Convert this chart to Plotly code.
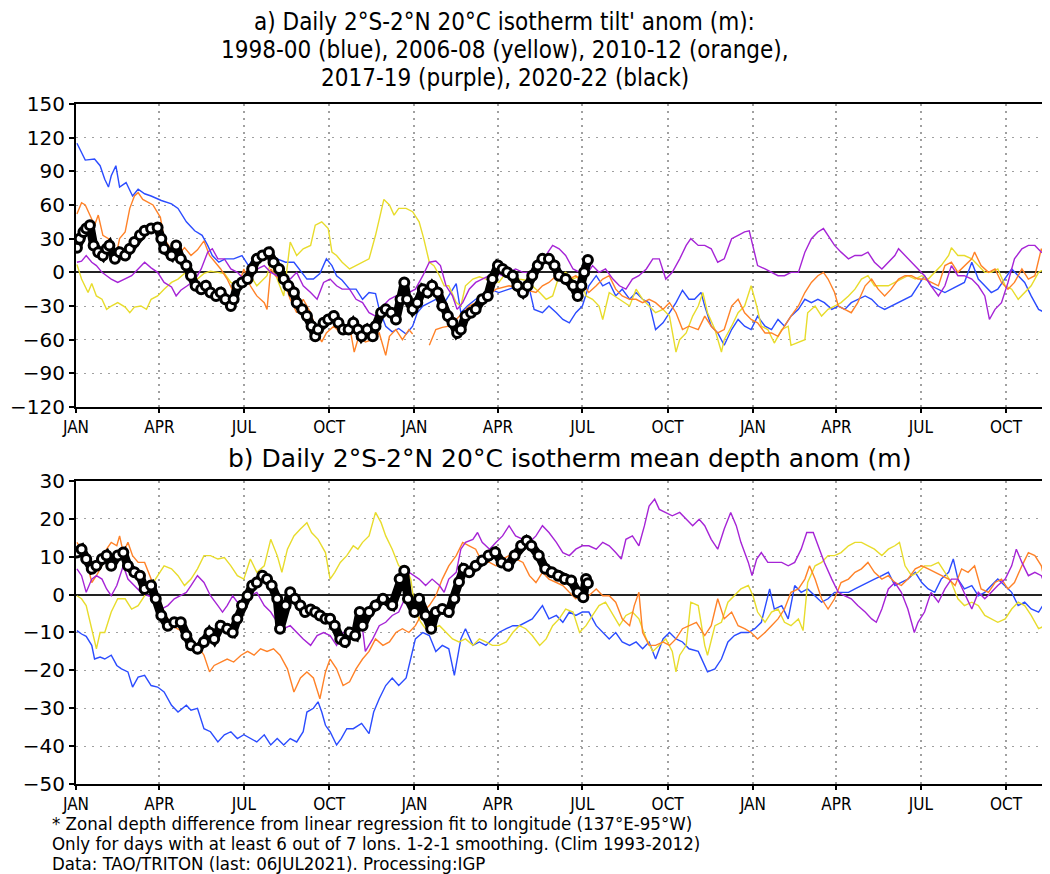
import plotly.graph_objects as go
from plotly.subplots import make_subplots

# ---------------- tick labels ----------------
month_ticks = [0, 90, 181, 273, 365, 455, 546, 638, 730, 820, 911, 1003]
month_labels = ["JAN", "APR", "JUL", "OCT"] * 3

# ---------------- panel a) tilt anomaly (m), x = day since JAN of year 1 ----------------
tilt_blue_day = [1, 10, 20, 26, 31, 35, 38, 43, 47, 54, 61, 67, 74, 81, 92, 103, 110, 119, 128, 136, 142, 147, 154, 161, 170, 179, 186, 194, 201, 210, 217, 226, 235, 244, 249, 256, 263, 270, 276, 281,
                 287, 295, 302, 309, 316, 323, 327, 334, 341, 348, 356, 363, 368, 374, 381, 388, 395, 402, 410, 415, 422, 431, 438, 446, 456, 467, 478, 489, 494, 503, 510, 518, 525, 532, 539, 546, 553, 561, 568, 575, 582, 589, 597, 604, 611, 618, 625, 633, 640, 647, 654, 661,
                 667, 674, 678, 685, 692, 699, 707, 714, 721, 728, 735, 743, 750, 757, 764, 771, 779, 786, 793, 800, 807, 815, 822, 829, 836, 843, 851, 858, 865, 872, 879, 887, 894, 901, 908, 915, 922, 930, 937, 944, 951, 958, 966, 973, 980, 987, 994, 1002, 1009, 1016, 1023, 1030, 1038, 1045, 1050]
tilt_blue = [115, 100, 101, 95, 83, 76, 86, 95, 76, 80, 68, 74, 70, 68, 64, 61, 57, 45, 37, 33, 24, 15, 9, 12, 12, 15, 6, 15, 18, 16, 12, 9, 9, 0, -6, -6, -1, 12, 6, -3,
             -7, -15, -15, -24, -18, -19, -33, -48, -53, -50, -55, -48, -36, -30, -27, -24, -30, -21, -10, -36, -30, -24, -21, -15, -18, -15, -12, -15, -33, -36, -30, -36, -42, -45, -36, -30, -12, -3, -12, -9, -21, -15, -24, -18, -24, -27, -51, -45, -36, -27, -16, -24,
             -24, -18, -30, -48, -54, -65, -51, -42, -48, -51, -39, -48, -51, -42, -48, -39, -33, -24, -27, -24, -27, -33, -30, -33, -27, -24, -21, -24, -30, -33, -30, -27, -24, -21, -12, -3, -12, -15, -18, -15, -12, -9, 9, -6, -12, -18, -15, -6, 3, -3, -9, -21, -33, -36, -40]

tilt_yellow_day = [1, 6, 13, 17, 22, 28, 33, 38, 45, 53, 58, 63, 70, 76, 81, 88, 95, 103, 110, 117, 124, 131, 138, 145, 153, 160, 167, 174, 181, 188, 195, 206, 210, 217, 224, 231, 238, 245, 253, 258, 265, 272, 276, 281,
                   287, 295, 302, 309, 316, 323, 329, 332, 338, 343, 348, 356, 363, 370, 375, 381, 386, 392, 397, 402, 410, 415, 420, 428, 435, 442, 449, 456, 464, 471, 478, 485, 492, 500, 507, 514, 521, 528, 536, 543, 550, 557, 564, 568, 575, 586, 597, 604, 611, 618, 625, 633, 640, 647, 651, 658, 665,
                   671, 676, 681, 689, 696, 699, 707, 714, 721, 728, 734, 739, 746, 753, 761, 768, 771, 779, 786, 789, 797, 804, 811, 818, 825, 833, 840, 847, 854, 861, 869, 876, 883, 890, 897, 905, 912, 919, 926, 933, 941, 944, 951, 958, 966, 973, 980, 987, 994, 1002, 1009, 1016, 1023, 1030, 1038, 1045, 1050]
tilt_yellow = [7, -6, -18, -10, -21, -24, -33, -30, -27, -31, -36, -31, -30, -33, -24, -21, -15, -9, -6, -1, 0, -6, -1, 1, 0, -1, -9, -12, -6, -3, -12, -3, 9, -6, -21, 27, 15, 21, 24, 42, 45, 39, 18, 15,
               9, 3, 6, 9, 12, 33, 54, 65, 60, 51, 57, 57, 54, 45, 30, 9, 6, -3, -12, -12, -27, -30, -12, -6, -4, -6, -7, -9, 0, -3, -6, -7, -12, -18, -24, -21, -3, 0, -6, -3, -21, -24, -30, -42, -18, -24, -30, -15, -24, -30, -36, -33, -39, -71, -60, -54, -39,
               -30, -18, -36, -51, -71, -60, -48, -36, -30, -12, -30, -48, -51, -63, -51, -48, -65, -62, -60, -36, -30, -39, -33, -30, -27, -21, -15, -6, -3, -12, -12, -12, -9, -6, -3, -6, -3, -6, 0, 6, 15, 22, 15, 15, 12, 6, 0, 0, 3, -12, -15, -24, -18, -12, 0, 3, -6]

tilt_orange_day = [1, 6, 10, 15, 20, 24, 29, 35, 38, 44, 47, 53, 58, 63, 67, 72, 78, 83, 91, 95, 103, 110, 117, 124, 131, 138, 144, 149, 156, 163, 170, 174, 181, 188, 195, 203, 206, 210, 215, 220, 226, 231, 238, 245, 253, 260, 265, 270, 278, 285,
                   295, 300, 305, 312, 320, 327, 334, 338, 345, 352, 359, 363, 372, 381, 388, 395, 402, 410, 424, 438, 453, 467, 482, 496, 503, 510, 518, 525, 532, 539, 546, 553, 561, 568, 575, 582, 589, 597, 604, 611, 618, 625, 633, 640, 647, 654, 661,
                   671, 678, 685, 692, 699, 707, 714, 721, 728, 735, 743, 750, 757, 764, 771, 779, 786, 793, 800, 806, 811, 818, 822, 829, 836, 843, 851, 858, 865, 872, 879, 887, 894, 901, 908, 915, 922, 930, 937, 944, 951, 958, 966, 969, 976, 984, 991, 998, 1005, 1012, 1020, 1027, 1034, 1041, 1045, 1050]
tilt_orange = [52, 62, 60, 51, 42, 51, 33, 30, 22, 18, 30, 36, 57, 68, 71, 65, 62, 60, 49, 30, 20, 15, 22, 15, 20, 28, 15, 10, 3, -6, -18, -15, 3, -12, -21, -27, -33, 3, -3, -6, -12, -24, -36, -24, -36, -54, -62, -54, -48, -54,
               -48, -71, -57, -62, -60, -54, -74, -57, -51, -60, -51, -55, None, -65, -51, -49, -48, -42, -30, -24, -15, -12, -15, -18, -12, -9, -3, -9, -6, -3, -9, -18, -12, -6, -3, -15, -21, -24, -24, -27, -24, -27, -33, -27, -36, -51, -48,
               -51, -39, -48, -54, -51, -30, -24, -36, -42, -45, -54, -54, -57, -48, -39, -30, -18, -9, -3, 0, -6, -18, -30, -33, -36, -27, -12, -6, -15, -21, -15, -6, -3, -3, -6, -6, -9, -12, 6, 9, 0, 6, 12, 18, 6, 0, 3, -9, -15, -9, 3, -6, -3, 21, 15, 9]

tilt_purple_day = [1, 6, 11, 17, 22, 28, 33, 38, 45, 53, 60, 67, 74, 81, 88, 95, 103, 108, 113, 120, 128, 135, 142, 147, 153, 160, 167, 174, 181, 188, 195, 203, 210, 217, 224, 231, 238, 245, 253, 260, 267, 274, 281,
                   287, 295, 302, 309, 316, 323, 331, 338, 345, 352, 359, 366, 374, 381, 388, 393, 399, 406, 411, 417, 424, 431, 438, 446, 453, 460, 467, 474, 482, 489, 496, 503, 509, 514, 521, 528, 536, 543, 550, 557, 564, 571, 579, 586, 593, 600, 607, 615, 622, 629, 636, 643, 651, 658, 663,
                   671, 678, 685, 692, 699, 707, 714, 721, 726, 732, 735, 743, 750, 757, 764, 771, 779, 786, 793, 800, 806, 811, 818, 825, 833, 840, 847, 854, 861, 869, 876, 883, 887, 894, 901, 908, 915, 922, 930, 937, 944, 951, 958, 966, 973, 980, 985, 991, 998, 1005, 1012, 1020, 1027, 1034, 1041, 1050]
tilt_purple = [9, 10, 15, 9, 6, 0, -3, -6, -9, -6, -3, 3, 9, 4, 0, -9, -13, -21, -16, -12, -7, 3, 18, 21, 12, 12, 3, 0, -6, 0, 3, 6, 0, -3, -3, -6, 0, -12, -18, -24, -9, -6, -12,
               -15, -15, -24, -27, -36, -39, -30, -24, -21, -21, -18, -15, -3, 9, 10, 6, -12, -21, -33, -27, -15, -9, -6, -3, 0, -3, 0, 3, 0, 0, 6, 9, 18, 24, 21, 15, 3, 0, -3, 6, 0, 3, -6, -12, -15, -6, -3, 3, 12, 12, -6, 0, 12, 24, 30,
               24, 24, 21, 9, 12, 30, 33, 36, 37, 15, 6, 3, 0, -3, -3, 0, 0, 18, 30, 36, 39, 33, 24, 18, 12, 15, 15, 18, 9, 3, 9, 15, 21, 15, 9, 3, -3, -12, -21, -12, 6, -3, -3, -6, -12, -21, -42, -33, -27, -9, 12, 21, 24, 24, 18, 15]

tilt_black_day = [1, 4, 8, 11, 15, 19, 24, 29, 33, 36, 42, 47, 53, 58, 63, 69, 74, 81, 88, 92, 95, 103, 108, 113, 119, 124, 129, 135, 140, 145, 151, 156, 161, 167, 170, 174, 179, 185, 190, 195, 201, 208, 213, 219, 224, 229, 235, 238, 244, 249, 254, 258, 261, 267, 272, 278, 283, 288, 294, 299, 304, 308,
                  314, 320, 323, 329, 334, 340, 345, 350, 354, 357, 363, 368, 374, 379, 384, 390, 395, 401, 406, 411, 415, 420, 426, 431, 438, 444, 449, 455, 460, 465, 471, 476, 482, 487, 492, 498, 503, 510, 516, 521, 528, 536, 541, 545, 548, 552]
tilt_black = [22, 30, 36, 39, 42, 24, 18, 15, 21, 24, 12, 18, 15, 21, 27, 33, 37, 39, 40, 30, 21, 15, 24, 12, 6, -3, -12, -15, -12, -18, -21, -18, -24, -30, -24, -12, -9, -6, 3, 12, 15, 18, 9, 3, -6, -12, -18, -27, -33, -39, -48, -57, -51, -45, -42, -39, -45, -51, -51, -45, -51, -57,
              -51, -57, -48, -36, -33, -36, -42, -24, -9, -24, -33, -27, -15, -18, -12, -18, -30, -39, -45, -54, -51, -39, -36, -33, -24, -21, -6, 6, 3, 0, -3, -12, -18, -12, -3, 6, 12, 12, 6, -3, -6, -12, -21, -12, 0, 11]

# ---------------- panel b) mean depth anomaly (m) ----------------
dep_blue_day = [1, 6, 11, 17, 20, 26, 31, 38, 44, 49, 56, 61, 67, 74, 81, 88, 95, 103, 110, 119, 124, 131, 138, 145, 153, 160, 167, 174, 181, 188, 195, 203, 210, 217, 224, 231, 238, 245, 249, 256, 261, 265, 269, 274, 281, 286, 292, 299, 308,
                316, 321, 327, 334, 341, 348, 356, 361, 366, 374, 381, 388, 395, 402, 408, 415, 420, 428, 435, 442, 449, 456, 464, 471, 478, 485, 492, 503, 510, 518, 525, 532, 539, 546, 553, 561, 568, 575, 582, 589, 597, 604, 611, 618, 625, 633, 640, 647, 654, 661,
                671, 678, 681, 689, 696, 703, 710, 717, 725, 732, 739, 748, 753, 761, 768, 775, 782, 789, 797, 804, 811, 818, 825, 833, 840, 847, 854, 861, 869, 876, 883, 890, 897, 905, 912, 919, 926, 933, 941, 946, 951, 958, 966, 973, 980, 987, 994, 998, 1009, 1016, 1023, 1030, 1038, 1045, 1050]
dep_blue = [-9.5, -10.4, -11, -13.4, -17, -16.5, -17, -16, -18.7, -19.6, -20.4, -24.4, -21.8, -21.3, -24, -24.4, -25.7, -29.2, -31, -29.2, -30.5, -30, -35.4, -36.2, -38.9, -37, -36.2, -38, -37, -38, -38.9, -37, -39.7, -38, -39.7, -38, -38.9, -36.2, -31, -30, -28.3, -31, -34.5, -36.2, -39.7, -38, -35.4, -35.4, -34,
            -36.7, -31, -27.5, -24, -22, -24, -22, -17, -11.7, -10, -10.8, -15, -13.4, -14.3, -21.3, -11.7, -9, -13.4, -12.5, -13.4, -11.7, -10, -9, -8.2, -8.2, -7.3, -6.4, -2.9, -6.4, -5.5, -7.3, -4.6, -5.5, -4.6, -4.6, -8.2, -10, -11.7, -10, -12.5, -13.4, -12.5, -14.3, -12.5, -17, -11.7, -10, -11.7, -12.5, -14.3,
            -15, -18.7, -20.4, -19.6, -17, -12.5, -10.8, -10, -10, -9, -7.3, 1.5, -3.8, -2.9, -6.4, 2.4, 0.6, 1.5, -0.3, -2, -1.1, 0.6, 0.6, 0.6, 1.5, 2.4, 3.2, 4.1, 5, 5.9, 2.4, 3.2, 4.1, 5.9, 3.2, 1.5, 0.6, 4.1, 5.9, 9.4, 4.1, 1.5, 2.4, -0.3, 0.6, 2.4, 4.1, 3.2, 0.6, -2.9, -2, -3.8, -4.6, -2, 0.6]

dep_yellow_day = [1, 6, 11, 17, 22, 26, 31, 38, 45, 53, 60, 67, 74, 81, 88, 95, 103, 110, 117, 124, 131, 138, 145, 153, 160, 167, 174, 181, 188, 195, 203, 210, 217, 222, 228, 235, 242, 249, 254, 261, 269, 274, 279, 285, 292, 299, 304,
                  309, 316, 323, 329, 334, 341, 348, 356, 361, 366, 372, 377, 384, 392, 399, 406, 413, 420, 428, 435, 442, 449, 456, 464, 471, 478, 485, 492, 500, 507, 514, 521, 528, 536, 543, 550, 557, 564, 571, 579, 586, 593, 600, 607, 615, 622, 629, 636, 643, 647, 651, 658, 663,
                  671, 678, 681, 689, 696, 703, 710, 717, 725, 730, 735, 743, 750, 757, 764, 771, 779, 784, 789, 797, 804, 811, 818, 825, 833, 840, 847, 854, 861, 869, 876, 883, 888, 894, 901, 908, 915, 922, 930, 937, 944, 951, 958, 966, 973, 980, 987, 994, 1002, 1009, 1016, 1023, 1030, 1038, 1045, 1050]
dep_yellow = [-0.3, -1.1, -2.9, -9, -14.3, -10, -10, -4.6, -1.1, -1.1, -3.8, -2.9, -0.3, 2.4, 5, 7.6, 6.8, 5, 2.4, 4.1, 6.8, 10.3, 10.3, 9.4, 9.8, 7.6, 5, 4.1, 9.4, 5.9, 7.6, 14.6, 10.3, 5.9, 12, 15.5, 17.3, 19, 16.4, 14.6, 11.1, 4.1, 5.9, 8.5, 10.3, 12.9, 12,
              13.8, 15.5, 21.7, 19, 15.5, 12, 7.6, 6.8, 4.1, -4.6, -7.3, -9, -9, -8.2, -10, -11.7, -12.5, -11.7, -13.4, -11.7, -12.5, -13.4, -13.4, -12.5, -10, -8.2, -9, -10.8, -13.4, -11.7, -8.2, -6.4, -3.8, -4.6, -10, -8.2, -5.5, -2.9, -2, -5.5, -8.2, -5.5, -4.6, -6.4, -11.7, -15, -13.4, -11.7, -15, -20.4, -16, -13.4, -2,
              -2.9, -13.4, -16, -8.2, -7.3, -2, -0.3, 1.5, 2.4, -0.3, -4.6, -7.3, -4.6, -3.8, -7.3, -8.2, -6.4, -9.5, 3.2, 7.6, 8.5, 10.3, 10.3, 11.1, 12.9, 13.8, 13.8, 12.9, 12, 10.3, 12, 12.9, 13.8, 7.6, 5, 5.9, 7.6, 7.6, 8.5, 5.9, 3.2, -1.1, -2.9, -2, -2.9, -5.5, -6.4, -7.3, -6.4, -3.8, -2, -2.9, -5.5, -9, -8.2, -7.3]

dep_orange_day = [1, 6, 11, 17, 22, 28, 33, 38, 44, 47, 51, 56, 61, 67, 74, 81, 88, 95, 103, 110, 117, 124, 131, 138, 144, 149, 156, 163, 170, 178, 185, 192, 199, 206, 213, 220, 228, 235, 242, 249, 256, 263, 269, 274, 281, 288, 295, 302,
                  309, 316, 323, 331, 338, 345, 352, 359, 366, 374, 381, 388, 395, 402, 410, 417, 424, 431, 438, 446, 453, 460, 467, 474, 482, 489, 496, 503, 510, 518, 525, 532, 539, 546, 553, 561, 568, 575, 582, 589, 597, 602, 607, 611, 618, 625, 633, 640, 647, 654, 661, 669,
                  678, 685, 692, 699, 707, 714, 721, 728, 735, 743, 750, 757, 764, 771, 779, 786, 791, 797, 804, 811, 818, 825, 833, 840, 847, 854, 861, 869, 876, 883, 890, 897, 905, 912, 919, 926, 933, 941, 948, 955, 962, 969, 976, 984, 991, 998, 1005, 1012, 1020, 1027, 1034, 1041, 1045, 1050]
dep_orange = [13.8, 12, 9.4, 3.2, 5, 7.6, 12, 13.8, 12.9, 15.5, 11.1, 13.8, 10.3, 8.5, 8.5, 4.1, -0.3, -4.6, -8.2, -9, -10, -11.7, -13.4, -16, -20.4, -18.7, -17.8, -17, -17.8, -16, -15, -16, -14.3, -15, -14.3, -16, -19.6, -25.7, -22, -20.4, -22, -27.5, -20.4, -17, -19.6, -24, -23, -19.6,
              -17, -15, -11.7, -13.4, -12.5, -10, -9, -10, -8.2, -4.6, -2.9, -0.3, 4.1, 7.6, 10.3, 13.8, 12.9, 12, 8.5, 8.5, 7.6, 9.4, 10.3, 9.4, 8.5, 5, 3.2, 5.9, 4.1, 3.2, 2.4, 0.6, -1.1, 0.6, -0.3, 1.5, -0.3, -0.3, -2, -6.4, -8.2, -2.9, 0.6, -10, -13.4, -13.4, -12.5, -13.4, -11.7, -9, -8.2, -7.3,
              -10.8, -8.2, -1.1, -6.4, -4.6, -8.2, -9, -10, -11.7, -10, -8.2, -6.4, -3.8, 0.6, 1.5, 4.1, 7.6, 4.1, -1.1, -3.8, -1.1, 3.2, 4.1, 5.9, 6.8, 8.5, 5.9, 4.1, 5, 3.2, 2.4, 4.1, 6.8, 7.6, 6.8, 5.9, 5, 4.1, 2.4, 6.8, 5.9, 7.6, 1.5, 0.6, 3.2, 4.1, 1.5, 3.2, 7.6, 11.1, 10.3, 7.6, 3.2, 3.2]

dep_purple_day = [1, 6, 11, 17, 22, 28, 33, 38, 44, 51, 56, 63, 70, 78, 85, 92, 99, 106, 113, 119, 124, 131, 138, 145, 153, 158, 163, 169, 174, 181, 188, 195, 203, 210, 217, 224, 231, 238, 245, 253, 260, 267, 274, 281, 288, 295, 302, 309,
                  312, 320, 327, 334, 341, 348, 356, 359, 365, 370, 377, 384, 392, 397, 402, 410, 415, 420, 428, 433, 438, 446, 453, 460, 467, 474, 482, 489, 496, 503, 510, 518, 525, 532, 539, 546, 553, 561, 568, 575, 582, 588, 593, 600, 607, 613, 618, 624, 629, 636, 643, 651, 658, 665, 672,
                  678, 685, 692, 699, 706, 712, 717, 725, 729, 734, 739, 746, 753, 761, 768, 775, 782, 788, 795, 800, 807, 815, 822, 829, 836, 843, 851, 858, 863, 869, 876, 883, 890, 897, 904, 908, 915, 922, 930, 937, 944, 951, 958, 966, 973, 980, 987, 994, 1002, 1009, 1014, 1020, 1027, 1034, 1041, 1045, 1050]
dep_purple = [6.8, 5, 0.6, 4.1, 5, 4.1, 1.5, -0.3, 2.4, 7.6, 4.1, 2.4, 0.6, -0.3, -1.1, -3.8, -2.9, -1.1, -0.3, 0.6, 2.4, 5, 3.2, -0.3, -2.9, -4.6, -2.9, -0.3, -2, -1.1, -0.3, 0.6, -2.9, -4.6, -7.3, -9, -8.2, -10, -11.7, -13.4, -10.8, -10, -10.8, -13.4, -10, -10.8, -8.2, -9,
              -15, -11.7, -8.2, -7.3, -5.5, -4.6, -0.3, 5.9, 5, 4.1, 2.4, 4.1, 2.4, 0.6, 4.1, 5.9, 12, 13.8, 14.6, 16.4, 13.8, 12, 13.8, 15.5, 18.2, 15.5, 14.6, 13.8, 15.5, 18.2, 16.4, 13.8, 11.1, 10.3, 12, 12.9, 12.9, 12, 13.8, 12.9, 11.1, 9.4, 14.6, 15.5, 12.9, 18.2, 23.4, 25.2, 22.5, 21.7, 20.8, 21.7, 19.9, 18.2, 19.9,
              18.2, 14.6, 12, 17.3, 21.7, 18.2, 13.8, 8.5, 5, 9.4, 11.1, 8.5, 8.5, 8.5, 7.6, 8.5, 12, 16.4, 16.4, 12.9, 8.5, 4.1, 0.6, -0.3, -1.1, -2.9, -4.6, -6.4, -7.3, -3.8, 1.5, 3.2, 0.6, -3.8, -10, -7.3, -4.6, 0.6, -2, 1.5, 4.1, 4.1, 0.6, -3.8, 0.6, -1.1, 0.6, 2.4, 4.1, 7.6, 12, 8.5, 5, 5.9, 5, 2.4, 1.5]

dep_black_day = [1, 6, 11, 17, 22, 28, 33, 38, 45, 51, 56, 63, 69, 74, 81, 86, 92, 99, 106, 113, 119, 124, 131, 138, 144, 149, 156, 163, 169, 174, 179, 185, 190, 195, 201, 206, 211, 217, 220, 226, 231, 236, 242, 247, 253, 258, 263, 269, 274, 279, 285, 290, 295, 301, 306, 309,
                 316, 323, 331, 341, 349, 354, 358, 365, 370, 377, 383, 388, 395, 402, 408, 413, 418, 424, 431, 438, 445, 452, 459, 466, 473, 480, 486, 491, 499, 506, 513, 520, 527, 534, 541, 547, 550, 552]
dep_black = [11.1, 12, 9.4, 6.8, 7.6, 9.4, 10.3, 7.6, 10.3, 11.1, 7.6, 5.9, 5, 1.5, 2.4, -1.1, -5.5, -8.2, -7.3, -7.3, -10.8, -13.4, -14.3, -12.5, -10, -11.7, -8.2, -9, -10, -6.4, -2.9, -0.3, 2.4, 3.2, 5, 4.1, 2.4, -1.1, -9, -2.9, 0.6, -1.1, -2.9, -4.6, -3.9, -4.6, -5.5, -6.4, -6.4, -8.2, -11.7, -12.5, -10, -10.8, -4.6, -8.2,
             -4.6, -2.9, -1.1, -2.8, 4.1, 6.3, -1.1, -4.6, -1.1, -5.5, -9, -4.6, -3.8, -4.6, -1.1, 3.3, 6.8, 5.9, 7.6, 9, 10.3, 11.2, 8.5, 7.6, 10.3, 12.9, 14.2, 12.9, 10.3, 6.8, 5.9, 5, 4.1, 3.7, 0.6, -0.7, 4.1, 3]

# ---------------- styling ----------------
C_BLUE, C_YELLOW, C_ORANGE, C_PURPLE = "#2b4cff", "#e8dc2c", "#ff8228", "#a624d6"
NARROW = "Liberation Sans Narrow, DejaVu Sans Condensed, Liberation Sans, sans-serif"
WIDE = "DejaVu Sans, sans-serif"

fig = make_subplots(rows=2, cols=1, vertical_spacing=0.1088)

def add_series(days, vals, color, row):
    fig.add_trace(go.Scatter(x=days, y=vals, mode="lines", line=dict(color=color, width=1.4),
                             connectgaps=False, showlegend=False, hoverinfo="skip"), row=row, col=1)

def add_black(days, vals, row):
    fig.add_trace(go.Scatter(x=days, y=vals, mode="lines+markers",
                             line=dict(color="black", width=9),
                             marker=dict(symbol="circle", size=9, color="white",
                                         line=dict(color="black", width=3)),
                             showlegend=False, hoverinfo="skip"), row=row, col=1)

for r, (b, y, o, p, k) in enumerate([
        ((tilt_blue_day, tilt_blue), (tilt_yellow_day, tilt_yellow), (tilt_orange_day, tilt_orange),
         (tilt_purple_day, tilt_purple), (tilt_black_day, tilt_black)),
        ((dep_blue_day, dep_blue), (dep_yellow_day, dep_yellow), (dep_orange_day, dep_orange),
         (dep_purple_day, dep_purple), (dep_black_day, dep_black))], start=1):
    add_series(*b, C_BLUE, r)
    add_series(*y, C_YELLOW, r)
    add_series(*o, C_ORANGE, r)
    add_series(*p, C_PURPLE, r)
    add_black(*k, r)

xax = dict(range=[0, 1046], tickmode="array", tickvals=month_ticks, ticktext=month_labels,
           showgrid=True, gridcolor="#a0a0a0", gridwidth=1.6, griddash="2px,5px",
           showline=True, linecolor="black", linewidth=2, mirror=True,
           ticks="outside", ticklen=4, tickwidth=1.5, tickcolor="black",
           tickfont=dict(family=NARROW, size=17, color="black"), zeroline=False)
fig.update_xaxes(**xax)

yax_common = dict(showgrid=True, gridcolor="#a0a0a0", gridwidth=1.2, griddash="2px,6px",
                  showline=True, linecolor="black", linewidth=2, mirror=True,
                  ticks="outside", ticklen=5, tickwidth=1.5, tickcolor="black",
                  tickfont=dict(family=WIDE, size=20, color="black"),
                  zeroline=True, zerolinecolor="#222222", zerolinewidth=1.6)
fig.update_yaxes(range=[-120, 150], tickmode="linear", tick0=-120, dtick=30, row=1, col=1, **yax_common)
fig.update_yaxes(range=[-50, 30], tickmode="linear", tick0=-50, dtick=10, row=2, col=1, **yax_common)
fig.update_layout(yaxis=dict(domain=[0.5544, 1.0]), yaxis2=dict(domain=[0.0, 0.4456]))

title_lines = ["a) Daily 2°S-2°N 20°C isotherm tilt' anom (m):",
               "1998-00 (blue), 2006-08 (yellow), 2010-12 (orange),",
               "2017-19 (purple), 2020-22 (black)"]
title_y = [1.1206, 1.0794, 1.0382]
annots = []
for t, yy in zip(title_lines, title_y):
    annots.append(dict(text=t, x=0.442, y=yy, xref="paper", yref="paper", xanchor="center", yanchor="middle",
                       showarrow=False, font=dict(family=NARROW, size=24, color="black")))
annots.append(dict(text="b) Daily 2°S-2°N 20°C isotherm mean depth anom (m)", x=0.5087, y=0.4794,
                   xref="paper", yref="paper", xanchor="center", yanchor="middle", showarrow=False,
                   font=dict(family=WIDE, size=25, color="black")))
foot = ["* Zonal depth difference from linear regression fit to longitude (137°E-95°W)",
        "Only for days with at least 6 out of 7 lons. 1-2-1 smoothing. (Clim 1993-2012)",
        "Data: TAO/TRITON (last: 06JUL2021). Processing:IGP"]
for t, yy in zip(foot, [-0.0588, -0.0875, -0.1162]):
    annots.append(dict(text=t, x=-0.0266, y=yy, xref="paper", yref="paper", xanchor="left", yanchor="middle",
                       showarrow=False, font=dict(family=NARROW, size=18.5, color="black")))

# page body adds an 8px offset; size and margins compensate so the plot area lands where the reference has it
fig.update_layout(width=1042, height=866, margin=dict(l=63, r=2, t=96, b=90),
                  paper_bgcolor="white", plot_bgcolor="white", annotations=annots, showlegend=False)

fig.write_html("out.html")
